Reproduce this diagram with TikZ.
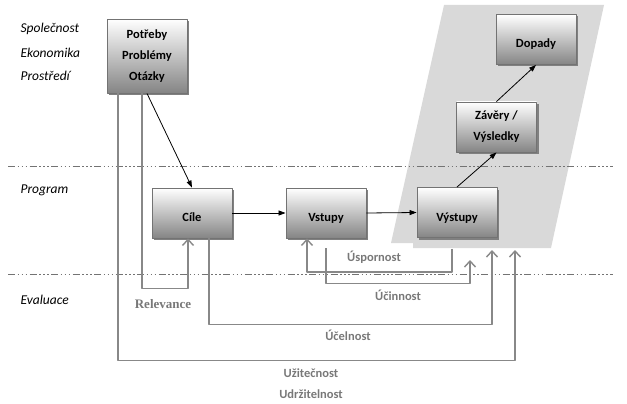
\documentclass[tikz,border=0pt]{standalone}
\usepackage{fontspec}
\setmainfont{Carlito}
\newfontfamily\relfont{Liberation Serif}
\usetikzlibrary{arrows.meta,shadows}
\definecolor{fbgray}{RGB}{136,136,136}
\definecolor{txgray}{RGB}{120,120,120}
\begin{document}
\begin{tikzpicture}[x=1pt,y=-1pt,line join=round,>={Triangle[length=7pt,width=5pt]},
	box/.style={draw=black!55,line width=0.9pt,top color=white,bottom color=black!48,minimum width=80pt,minimum height=50pt,inner sep=0pt,align=center,font=\bfseries\fontsize{12.5}{21}\selectfont,drop shadow={shadow xshift=2pt,shadow yshift=-2pt,fill=black!50,opacity=1}},
	low/.style={text height=20pt,text depth=3pt},
	flow/.style={->,line width=0.8pt},
	fb/.style={draw=fbgray,line width=1.4pt,-{Straight Barb[length=6pt,width=11pt]}},
	fbtext/.style={text=txgray,font=\bfseries\fontsize{12.5}{21}\selectfont,align=center},
	side/.style={anchor=west,font=\itshape\fontsize{13.5}{16}\selectfont},
	level/.style={draw=black!55,line width=1pt,dash pattern=on 7pt off 2.5pt on 1.5pt off 2.5pt on 1.5pt off 2.5pt on 1.5pt off 2.5pt}]
	\useasboundingbox(0,0)rectangle(627,404);
	\def\xl{8}
	\def\xr{613}
	\fill[black!15](444,5)--(604,5)--(551,248)--(413,248)--(413,243)--(391,243)--cycle;
	\draw[level](\xl,166)--(\xr,166)(\xl,274)--(\xr,274);
	\foreach \y/\t in{29/Společnost,53/Ekonomika,76/Prostředí,190/Program,300/Evaluace}
	\node[side](side\y)at(17,\y){\t};
	\node[box,minimum height=74pt](potreby)at(147,56){Potřeby\\Problémy\\Otázky};
	\node[box,low](cile)at(192,213){Cíle};
	\node[box,low](vstupy)at(326,213){Vstupy};
	\node[box,low](vystupy)at(457,212.5){Výstupy};
	\node[box](zavery)at(496.5,127){Závěry /\\Výsledky};
	\node[box,low](dopady)at(536,39.5){Dopady};
	\draw[flow](potreby.south)--(cile.north);
	\draw[flow](cile.east)--(vstupy.west);
	\draw[flow](vstupy.east)--(vystupy.west);
	\draw[flow](vystupy.north)--(zavery.south);
	\draw[flow](zavery.north)--(dopady.south);
	\coordinate(ucin)at(470,260);
	\coordinate(ucel)at(492,250);
	\coordinate(uzit)at(515,250);
	\draw[fb]([xshift=-5pt]potreby.south)--++(0,195)-|([xshift=-4pt]cile.south);
	\draw[fb]([xshift=-5pt,yshift=-11pt]vystupy.south)--++(0,23)-|([xshift=-19pt]vstupy.south);
	\draw[fb]([yshift=-10pt]vstupy.south)--++(0,35)-|(ucin);
	\draw[fb]([xshift=17pt]cile.south)--++(0,86)-|(ucel);
	\draw[fb]([xshift=-29pt]potreby.south)--++(0,267)-|(uzit);
	\node[fbtext,font=\relfont\bfseries\fontsize{13}{15}\selectfont](relev)at(163,304){Relevance};
	\node[fbtext](uspor)at(374,257){Úspornost};
	\node[fbtext](ucinn)at(398,295){Účinnost};
	\node[fbtext](ucelt)at(348,335){Účelnost};
	\node[fbtext](uzitt)at(311,383.5){Užitečnost\\Udržitelnost};
\end{tikzpicture}
\end{document}
